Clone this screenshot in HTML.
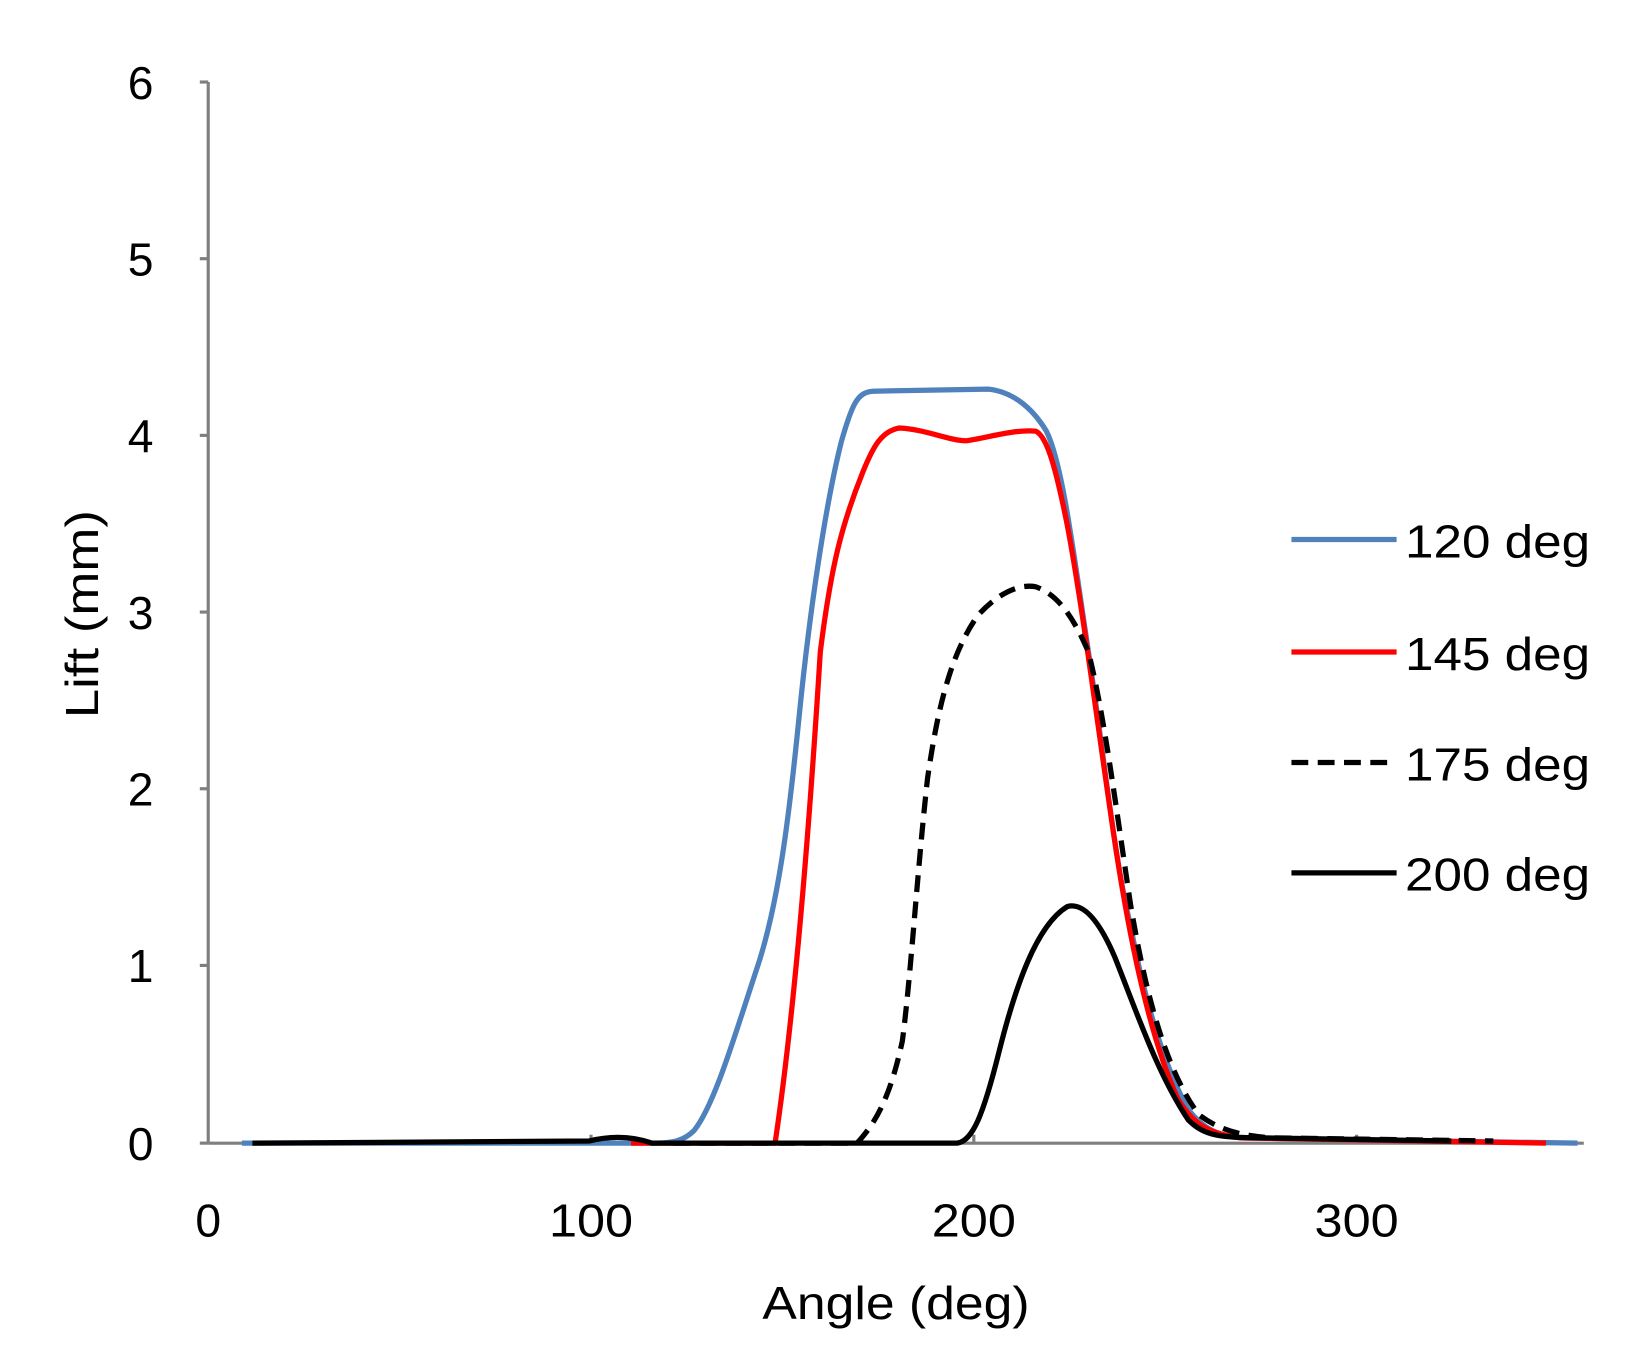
<!DOCTYPE html>
<html><head><style>html,body{margin:0;padding:0;background:#fff}svg{display:block}</style></head>
<body>
<svg width="1649" height="1364" viewBox="0 0 1568 1297" preserveAspectRatio="none" xmlns="http://www.w3.org/2000/svg" font-family="'Liberation Sans', sans-serif" fill="#000">
<g stroke="#7f7f7f" stroke-width="3" fill="none">
<line x1="198" y1="78" x2="198" y2="1087"/>
<line x1="198" y1="1087" x2="1506" y2="1087"/>
<line x1="190" y1="78" x2="198" y2="78"/>
<line x1="190" y1="246" x2="198" y2="246"/>
<line x1="190" y1="414" x2="198" y2="414"/>
<line x1="190" y1="582" x2="198" y2="582"/>
<line x1="190" y1="750" x2="198" y2="750"/>
<line x1="190" y1="918" x2="198" y2="918"/>
<line x1="190" y1="1087" x2="198" y2="1087"/>
<line x1="562" y1="1079" x2="562" y2="1087"/>
<line x1="926" y1="1079" x2="926" y2="1087"/>
<line x1="1290" y1="1079" x2="1290" y2="1087"/>
</g>
<g font-size="44" text-anchor="end">
<text x="146" y="94">6</text><text x="146" y="262">5</text><text x="146" y="430">4</text>
<text x="146" y="598">3</text><text x="146" y="766">2</text><text x="146" y="934">1</text><text x="146" y="1103">0</text>
</g>
<g font-size="44" text-anchor="middle">
<text x="198" y="1176">0</text>
<text x="562" y="1176" textLength="80" lengthAdjust="spacingAndGlyphs">100</text>
<text x="926" y="1176" textLength="80" lengthAdjust="spacingAndGlyphs">200</text>
<text x="1290" y="1176" textLength="80" lengthAdjust="spacingAndGlyphs">300</text>
<text x="852" y="1254" textLength="254" lengthAdjust="spacingAndGlyphs">Angle (deg)</text>
<text transform="translate(93,584) rotate(-90)" textLength="198" lengthAdjust="spacingAndGlyphs">Lift (mm)</text>
</g>
<g fill="none" stroke-width="5" stroke-linejoin="round">
<path stroke="#4f81bd" d="M230,1087 L620,1087 C640,1087 650,1085 660,1075 C680,1050 700,980 720,920 C740,860 750,780 760,680 C770,580 785,480 800,420 C810,385 815,373 830,372 L940,370 C960,372 980,385 995,410 C1010,440 1020,520 1035,620 C1050,720 1060,820 1075,880 C1090,960 1110,1020 1130,1055 C1145,1075 1160,1080 1180,1082 L1500,1087"/>
<path stroke="#ff0000" d="M600,1087 L737,1087 C750,1000 765,860 780,620 C790,540 800,500 820,450 C830,425 838,410 855,407 C880,408 905,420 920,419 C940,416 965,408 985,410 C995,415 1003,440 1015,500 C1030,580 1045,700 1060,800 C1075,900 1095,990 1120,1045 C1135,1070 1150,1078 1180,1082 L1470,1087"/>
<path stroke="#000" stroke-dasharray="16,9" d="M640,1087 L815,1087 C830,1070 845,1050 858,990 C866,930 872,830 882,740 C892,670 905,620 930,585 C950,563 970,555 985,558 C1005,565 1020,585 1035,620 C1050,680 1060,760 1075,860 C1090,950 1110,1020 1140,1060 C1160,1075 1180,1080 1210,1082 L1420,1085"/>
<path stroke="#000" d="M240,1087 L560,1085 C580,1080 600,1080 620,1087 L910,1087 C925,1085 935,1060 950,1000 C965,940 985,880 1015,862 C1030,858 1045,875 1060,910 C1080,960 1100,1020 1130,1065 C1145,1080 1160,1082 1200,1082 L1380,1085"/>
</g>
<g stroke-width="5">
<line x1="1228" y1="513" x2="1328" y2="513" stroke="#4f81bd"/>
<line x1="1228" y1="620" x2="1328" y2="620" stroke="#ff0000"/>
<line x1="1228" y1="725" x2="1328" y2="725" stroke="#000" stroke-dasharray="16,9"/>
<line x1="1228" y1="830" x2="1328" y2="830" stroke="#000"/>
</g>
<g font-size="44">
<text x="1336" y="530" textLength="176" lengthAdjust="spacingAndGlyphs">120 deg</text>
<text x="1336" y="637" textLength="176" lengthAdjust="spacingAndGlyphs">145 deg</text>
<text x="1336" y="742" textLength="176" lengthAdjust="spacingAndGlyphs">175 deg</text>
<text x="1336" y="847" textLength="176" lengthAdjust="spacingAndGlyphs">200 deg</text>
</g>
</svg>
</body></html>
